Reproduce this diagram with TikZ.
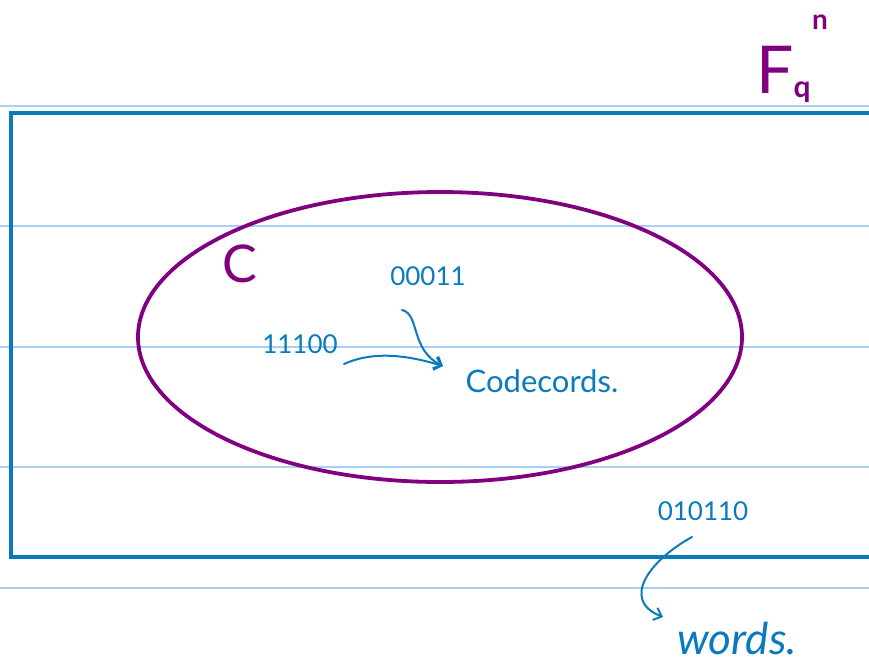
\documentclass[tikz,border=0pt]{standalone}
\usepackage{fontspec}
\setmainfont{Lato}
\usetikzlibrary{shapes.geometric,arrows.meta}
\definecolor{inkblue}{RGB}{10,122,190}
\definecolor{ruleblue}{RGB}{168,208,245}
\definecolor{inkpurple}{RGB}{128,0,128}
\tikzset{
  hand/.style={text=inkblue, inner sep=0pt},
  ruled/.style={ruleblue, line width=1.2pt},
  arr/.style={inkblue, line width=2pt, line cap=round, -{Straight Barb[length=7pt,width=13pt,line width=2pt]}},
}
\begin{document}
\begin{tikzpicture}[x=1pt,y=-1pt]
\useasboundingbox (0,0) rectangle (869,662);
\clip (0,0) rectangle (869,662);
% ruled paper lines
\foreach \yy in {106,226,347,467,588} \draw[ruled] (0,\yy) -- (869,\yy);
% the space F_q^n
\node[draw=inkblue, line width=4.6pt, minimum width=880pt, minimum height=444pt, inner sep=0pt] (space) at (451,335) {};
% the code C
\node[ellipse, draw=inkpurple, line width=3.8pt, minimum width=604pt, minimum height=290pt, inner sep=0pt] (code) at (440,337) {};
% labels
\node[text=inkpurple, inner sep=0pt, font=\fontsize{66}{66}\selectfont] (Fq) at (775,70) {F};
\node[text=inkpurple, inner sep=0pt, font=\bfseries\fontsize{30}{30}\selectfont] (q) at (802,92) {q};
\node[text=inkpurple, inner sep=0pt, font=\bfseries\fontsize{28}{28}\selectfont] (n) at (820,22) {n};
\node[text=inkpurple, inner sep=0pt, font=\fontsize{52}{52}\selectfont] (Clab) at (240,264) {C};
\node[hand, font=\fontsize{26}{26}\selectfont] (w00011) at (428,276) {00011};
\node[hand, font=\fontsize{26}{26}\selectfont] (w11100) at (300,344) {11100};
\node[hand, font=\fontsize{31}{31}\selectfont] (cw) at (542,381) {Codecords.};
\node[hand, font=\fontsize{26}{26}\selectfont] (w010110) at (703,511) {010110};
\node[hand, font=\itshape\fontsize{44}{44}\selectfont] (words) at (737,638) {words.};
% arrows
\coordinate (a1) at (344,364);
\coordinate (a2) at (402,310);
\coordinate (tip) at (443,366);
\coordinate (a3) at (692,537);
\coordinate (tip2) at (663,617);
\draw[arr] (a1) .. controls (375,350) and (410,356) .. (tip);
\draw[arr] (a2) .. controls (420,314) and (410,350) .. (tip);
\draw[arr] (a3) .. controls (650,560) and (620,600) .. (tip2);
\end{tikzpicture}
\end{document}
